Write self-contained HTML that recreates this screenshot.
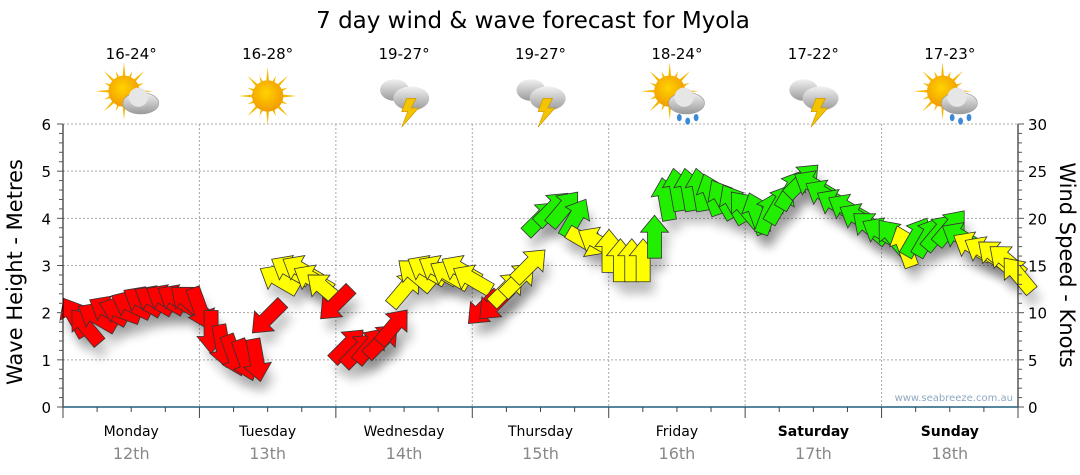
<!DOCTYPE html>
<html><head><meta charset="utf-8">
<style>
body{margin:0;background:#fff;}
svg{display:block;font-family:"DejaVu Sans","Liberation Sans",sans-serif;}
</style></head>
<body>
<svg id="chart" width="1080" height="475" viewBox="0 0 1080 475">
<defs>
<filter id="sh" x="-50%" y="-50%" width="200%" height="200%"><feGaussianBlur stdDeviation="5"/></filter>
<radialGradient id="sun" cx="0.45" cy="0.4" r="0.6"><stop offset="0" stop-color="#ffd400"/><stop offset="1" stop-color="#f29a00"/></radialGradient>
<linearGradient id="cloud" x1="0" y1="0" x2="0" y2="1"><stop offset="0" stop-color="#f2f2f2"/><stop offset="1" stop-color="#9a9a9a"/></linearGradient>
</defs>
<text x="533" y="28" font-size="23" text-anchor="middle" fill="#000">7 day wind &amp; wave forecast for Myola</text>
<g id="grid"></g>
<g id="shadows"></g>
<g id="arrows"></g>
<g id="axes"></g>
<g id="top"></g>
<text transform="translate(22,272) rotate(-90)" font-size="21" text-anchor="middle">Wave Height - Metres</text>
<text transform="translate(1060,265) rotate(90)" font-size="21" text-anchor="middle">Wind Speed - Knots</text>
<text x="1013" y="401" font-size="10" text-anchor="end" fill="#8fa8c0">www.seabreeze.com.au</text>
</svg>
<script>
const days=["Monday","Tuesday","Wednesday","Thursday","Friday","Saturday","Sunday"];
const dates=["12th","13th","14th","15th","16th","17th","18th"];
const temps=["16-24°","16-28°","19-27°","19-27°","18-24°","17-22°","17-23°"];
const icons=["partsun","sun","storm","storm","rain","storm","rain"];
const waveTicks=[0,1,2,3,4,5,6];
const windTicks=[0,5,10,15,20,25,30];
// wind speed (knots), 2-hourly, 12 per day
const speed=[
9.5,8.5,9.5,10.2,10.2,10.8,11.2,11.3,11.4,11.4,11.2,10.5,
8,6.5,5.5,5,5,9.5,13.5,14.5,14.5,13.5,12.5,11,
6.5,6,6.5,7,8.5,12.5,14,14.5,14.5,14,14.5,13.5,
10.5,11,12.5,13.5,15,20,21,21,20,17.5,17.5,16.5,
15.5,15.5,15.5,18,22,23,23,23,22.5,22,21.5,21,
20.5,20.5,21.5,23,24,23.5,22.5,21.5,21,20,19,18.5,
18,17,18,18,18.5,19,18,17,16.5,16,15.5,14];
// arrow heading in degrees (0 = up, clockwise)
const dir=[
330,320,300,300,290,295,300,300,300,300,310,160,
180,170,160,160,170,225,300,300,300,300,310,225,
45,45,40,45,40,40,310,300,300,300,300,300,
225,225,45,45,45,45,45,40,30,120,300,0,
0,0,0,0,350,350,350,350,340,330,330,320,
340,20,30,30,45,300,300,300,300,300,310,300,
320,340,30,30,40,40,300,300,300,310,310,320];
const X0=63,X1=1018,Y0=407,Y1=124;
const dayW=(X1-X0)/7;
const xT=t=>X0+t*dayW;
const yW=v=>Y0-(v/6)*(Y0-Y1);
const yK=v=>Y0-(v/30)*(Y0-Y1);
const NS="http://www.w3.org/2000/svg";
function mk(tag,attrs,parent){const e=document.createElementNS(NS,tag);for(const k in attrs)e.setAttribute(k,attrs[k]);parent.appendChild(e);return e;}
const grid=document.getElementById('grid'),axes=document.getElementById('axes'),top_=document.getElementById('top');
waveTicks.forEach(v=>{if(v>0){const l=mk('line',{x1:X0,x2:X1,y1:yW(v),y2:yW(v),stroke:'#aaa','stroke-dasharray':'2,2'},grid);}});
for(let d=1;d<7;d++){const l=mk('line',{x1:xT(d),x2:xT(d),y1:Y1,y2:Y0,stroke:'#aaa','stroke-dasharray':'2,2'},grid);}
mk('line',{x1:X0,x2:X0,y1:Y1,y2:Y0+6,stroke:'#000'},axes);
mk('line',{x1:X1,x2:X1,y1:Y1,y2:Y0+6,stroke:'#000'},axes);
for(let i=0;i<=30;i++){const y=yK(i);const major=i%5==0;
mk('line',{x1:X0-(major?6:4),x2:X0,y1:y,y2:y,stroke:'#555'},axes);
mk('line',{x1:X1,x2:X1+(major?6:4),y1:y,y2:y,stroke:'#555'},axes);}
waveTicks.forEach(v=>{const t=mk('text',{x:X0-12,y:yW(v)+6,'font-size':15,'text-anchor':'end'},axes);t.textContent=v;});
windTicks.forEach(v=>{const t=mk('text',{x:X1+10,y:yK(v)+6,'font-size':15},axes);t.textContent=v;});
mk('line',{x1:X0,x2:X1,y1:Y0,y2:Y0,stroke:'#1f5f7f','stroke-width':1.5},axes);
for(let q=0;q<=28;q++){const x=xT(q/4);mk('line',{x1:x,x2:x,y1:Y0,y2:Y0+(q%4==0?11:5),stroke:'#444'},axes);}
days.forEach((d,i)=>{const cx=xT(i+0.5);
const t=mk('text',{x:cx,y:436,'font-size':14,'text-anchor':'middle','font-weight':i>=5?'bold':'normal'},axes);t.textContent=d;
const t2=mk('text',{x:cx,y:459,'font-size':16,'text-anchor':'middle',fill:'#888'},axes);t2.textContent=dates[i];
const t3=mk('text',{x:cx,y:59,'font-size':15,'text-anchor':'middle'},top_);t3.textContent=temps[i];
const g=mk('g',{transform:`translate(${cx},96) scale(1.2)`},top_);
const ic=icons[i];
if(ic=='sun'||ic=='partsun'||ic=='rain'){const sx=ic=='sun'?0:-6,sy=ic=='sun'?0:-4;
for(let a=0;a<16;a++){const an=a*Math.PI/8;const r=a%2?18:24;mk('polygon',{points:`${sx+Math.cos(an-0.12)*11},${sy+Math.sin(an-0.12)*11} ${sx+Math.cos(an)*r},${sy+Math.sin(an)*r} ${sx+Math.cos(an+0.12)*11},${sy+Math.sin(an+0.12)*11}`,fill:'#f5b800'},g);}
mk('circle',{cx:sx,cy:sy,r:13,fill:'url(#sun)'},g);}
if(ic=='partsun'||ic=='rain'){mk('ellipse',{cx:8,cy:6,rx:15,ry:9,fill:'url(#cloud)',stroke:'#999','stroke-width':0.5},g);mk('circle',{cx:6,cy:1,r:8,fill:'#e6e6e6'},g);}
if(ic=='rain'){for(let k=0;k<3;k++)mk('ellipse',{cx:2+k*7,cy:18+(k%2)*3,rx:2,ry:3,fill:'#3a8ad8'},g);}
if(ic=='storm'){mk('ellipse',{cx:-8,cy:-5,rx:12,ry:9,fill:'url(#cloud)'},g);mk('ellipse',{cx:6,cy:2,rx:15,ry:10,fill:'url(#cloud)'},g);
mk('polygon',{points:'2,2 10,2 6,10 12,10 -2,26 3,13 -2,13',fill:'#f5c400',stroke:'#c89000','stroke-width':0.5},g);}
});
const shG=document.getElementById('shadows'),arG=document.getElementById('arrows');
const arrowPts="0,-22 14,-5 7,-5 7,21 -7,21 -7,-5 -14,-5";
speed.forEach((s,i)=>{const t=(i+0.5)/12;const x=xT(t)+6,y=yK(s);
const col=s>=17.8?'#22ee00':(s>=11.8?'#ffff00':'#ff0000');
const sh=mk('polygon',{points:arrowPts,transform:`translate(${x+5},${y+12}) rotate(${dir[i]})`,fill:'#000',opacity:0.22,filter:'url(#sh)'},shG);

const p=mk('polygon',{points:arrowPts,transform:`translate(${x},${y}) rotate(${dir[i]})`,fill:col,stroke:'#333','stroke-width':0.8},arG);
});
</script>
</body></html>
